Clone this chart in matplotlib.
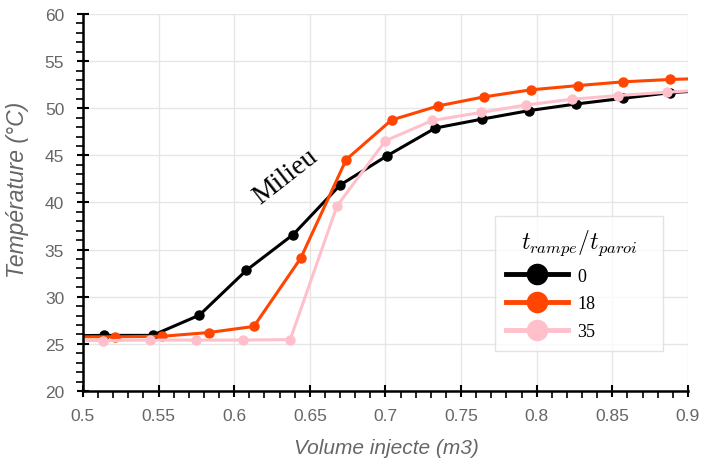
import matplotlib
matplotlib.use("Agg")
import matplotlib.pyplot as plt
from matplotlib.ticker import MultipleLocator

# Data
x_0 = [0.482, 0.514, 0.546, 0.577, 0.608, 0.639, 0.670, 0.701, 0.733, 0.764, 0.795, 0.826, 0.857, 0.888, 0.918]
y_0 = [25.85, 25.9, 25.9, 28.05, 32.8, 36.6, 41.85, 44.95, 47.9, 48.85, 49.75, 50.45, 51.05, 51.65, 51.95]

x_18 = [0.490, 0.521, 0.552, 0.583, 0.613, 0.644, 0.674, 0.704, 0.735, 0.765, 0.796, 0.827, 0.857, 0.888, 0.918]
y_18 = [25.75, 25.75, 25.8, 26.2, 26.85, 34.1, 44.55, 48.75, 50.25, 51.2, 51.95, 52.4, 52.8, 53.05, 53.2]

x_35 = [0.482, 0.513, 0.544, 0.575, 0.606, 0.637, 0.668, 0.700, 0.731, 0.763, 0.793, 0.823, 0.854, 0.886, 0.917]
y_35 = [25.35, 25.35, 25.4, 25.4, 25.4, 25.45, 39.65, 46.55, 48.7, 49.55, 50.35, 50.95, 51.35, 51.7, 52.0]

series_labels = ["0", "18", "35"]
series_colors = ["#000000", "#FF4500", "#FFC0CB"]

xtick_vals = [0.5, 0.55, 0.6, 0.65, 0.7, 0.75, 0.8, 0.85, 0.9]
xtick_labels = ["0.5", "0.55", "0.6", "0.65", "0.7", "0.75", "0.8", "0.85", "0.9"]
ytick_vals = [20, 25, 30, 35, 40, 45, 50, 55, 60]
ytick_labels = ["20", "25", "30", "35", "40", "45", "50", "55", "60"]

plt.rcParams["mathtext.fontset"] = "cm"
SANS = "Liberation Sans"
SERIF = "Liberation Serif"

fig = plt.figure(figsize=(7.02, 4.64), dpi=100)
ax = fig.add_axes([0.1182, 0.1552, 0.8618, 0.8125])

for xs, ys, lab, col in zip([x_0, x_18, x_35], [y_0, y_18, y_35], series_labels, series_colors):
    ax.plot(xs, ys, color=col, lw=2.2, marker="o", ms=6.5, label=lab)

ax.set_xlim(0.5, 0.9)
ax.set_ylim(20, 60)
ax.set_xticks(xtick_vals)
ax.set_xticklabels(xtick_labels, family=SANS)
ax.set_yticks(ytick_vals)
ax.set_yticklabels(ytick_labels, family=SANS)
ax.xaxis.set_minor_locator(MultipleLocator(0.01))
ax.yaxis.set_minor_locator(MultipleLocator(1))

ax.grid(True, which="major", color="#e6e6e6", lw=1.0, zorder=0)
ax.set_axisbelow(True)
for s in ["top", "right"]:
    ax.spines[s].set_visible(False)
for s in ["left", "bottom"]:
    ax.spines[s].set_linewidth(1.8)
    ax.spines[s].set_color("black")

ax.tick_params(which="major", direction="inout", length=9, width=1.5, colors="black",
               labelcolor="#666666", labelsize=12.5)
ax.tick_params(which="minor", direction="out", length=5, width=1.2, colors="black")
ax.tick_params(axis="x", which="major", pad=8)
ax.tick_params(axis="y", which="major", pad=9)

ax.set_xlabel("Volume injecte (m3)", fontsize=15, style="italic", color="#666666", family=SANS)
ax.set_ylabel("Température (°C)", fontsize=16.5, style="italic", color="#666666", family=SANS)
ax.xaxis.set_label_coords(0.5017, -0.125)
ax.yaxis.set_label_coords(-0.089, 0.536)

ax.text(0.6336, 42.8, "Milieu", rotation=38, fontsize=20, family=SERIF,
        ha="center", va="center", rotation_mode="anchor", color="black")

fs = 13
leg_h = 0.3
leg = ax.legend(title=r"$t_{rampe}/t_{paroi}$", loc="upper left",
                bbox_to_anchor=(0.681, 0.464 - leg_h, 168 / 605.0, leg_h), mode="expand",
                borderaxespad=0, frameon=True, fancybox=False, edgecolor="#dddddd",
                prop={"family": SERIF, "size": fs}, title_fontsize=17,
                handlelength=3.4, handletextpad=0.55, labelspacing=0.6, borderpad=0.62)
leg.get_frame().set_linewidth(1.0)
for h in leg.legend_handles:
    h.set_markersize(14.5)
    h.set_linewidth(3.5)

fig.savefig("out.png", dpi=100)
